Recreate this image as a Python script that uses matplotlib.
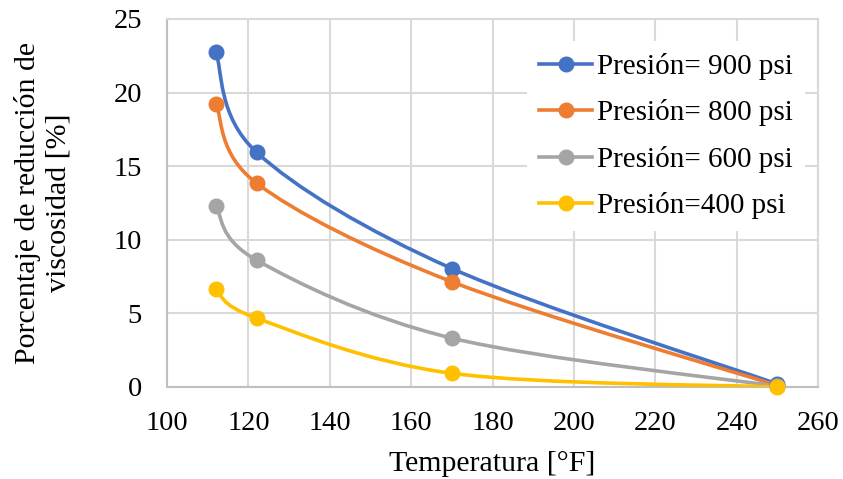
import matplotlib
matplotlib.use("Agg")
import matplotlib.pyplot as plt
import numpy as np
from matplotlib.path import Path
from matplotlib.patches import PathPatch

plt.rcParams['font.family'] = ['Liberation Serif', 'DejaVu Serif']

temperatura = [112, 122, 170, 250]
p900 = [22.75, 15.95, 8.05, 0.2]
p800 = [19.25, 13.85, 7.15, 0.1]
p600 = [12.3, 8.62, 3.32, 0.05]
p400 = [6.65, 4.68, 0.93, 0.0]

series = [
    ("Presión= 900 psi", p900, "#4472C4"),
    ("Presión= 800 psi", p800, "#ED7D31"),
    ("Presión= 600 psi", p600, "#A5A5A5"),
    ("Presión=400 psi", p400, "#FFC000"),
]

x_ticks = [100, 120, 140, 160, 180, 200, 220, 240, 260]
y_ticks = [0, 5, 10, 15, 20, 25]


def smooth_path(xs, ys):
    pts = np.column_stack([xs, ys]).astype(float)
    n = len(pts)
    verts = [pts[0]]
    codes = [Path.MOVETO]
    for i in range(n - 1):
        p0 = pts[i - 1] if i > 0 else pts[i]
        p1 = pts[i]
        p2 = pts[i + 1]
        p3 = pts[i + 2] if i + 2 < n else pts[i + 1]
        c1 = p1 + (p2 - p0) / 6.0
        c2 = p2 - (p3 - p1) / 6.0
        verts += [c1, c2, p2]
        codes += [Path.CURVE4] * 3
    return Path(verts, codes)


fig = plt.figure(figsize=(8.43, 4.79), dpi=100)
ax = fig.add_axes([167 / 843, 1 - 387 / 479, (818 - 167) / 843, (387 - 19) / 479])

LW = 2.6
MS = 10.5
for label, vals, color in series:
    patch = PathPatch(smooth_path(temperatura, vals), facecolor='none',
                      edgecolor=color, lw=LW, zorder=3, capstyle='round')
    ax.add_patch(patch)
    ax.plot(temperatura, vals, linestyle='none', marker='o', markersize=MS,
            color=color, zorder=4, clip_on=False)
    ax.plot([], [], color=color, lw=LW, marker='o', markersize=MS, label=label)

ax.set_xlim(100, 260)
ax.set_ylim(0, 25)
ax.set_xticks(x_ticks)
ax.set_yticks(y_ticks)
ax.tick_params(length=0, labelsize=20.5)
ax.tick_params(axis='y', pad=18)
ax.tick_params(axis='x', pad=17)
ax.grid(True, color='#d9d9d9', lw=1.5)
ax.set_axisbelow(True)
for s in ax.spines.values():
    s.set_color('#d9d9d9')
    s.set_linewidth(1.5)
ax.spines['bottom'].set_color('#bfbfbf')
ax.spines['left'].set_color('#bfbfbf')

ax.set_xlabel("Temperatura [°F]", fontsize=21.5, labelpad=11)
ax.set_ylabel("Porcentaje de reducción de\nviscosidad [%]", fontsize=21.5,
              labelpad=30, linespacing=1.25)

leg = ax.legend(loc='upper right', bbox_to_anchor=(0.98, 0.94), fontsize=21,
                frameon=True, facecolor='white', edgecolor='none', framealpha=1,
                handlelength=1.85, handletextpad=0.17, labelspacing=0.67,
                borderaxespad=0, borderpad=0.4, fancybox=False)

fig.savefig("out.png", dpi=100)
